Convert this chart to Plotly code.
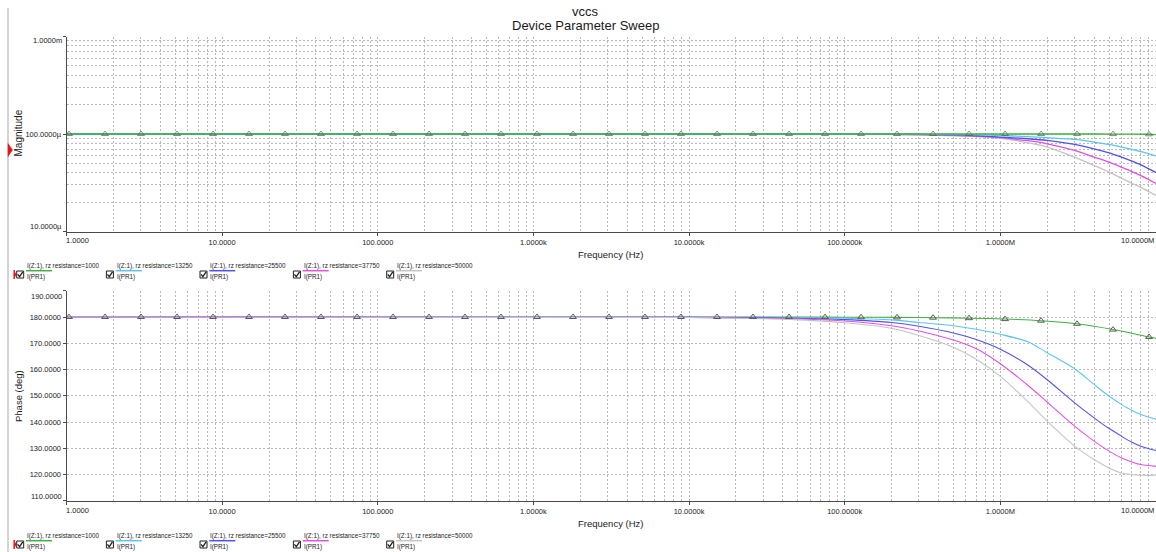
import plotly.graph_objects as go

W, H = 1156, 552
FONT = "Liberation Sans, Arial, sans-serif"
TXT = "#1a1a1a"

# ---------------- data ----------------
resistances = [1000, 13250, 25500, 37750, 50000]
colors = ["#3fb23f", "#5ac4ef", "#5050ee", "#e34fe3", "#c4c4c4"]

# trace for rz=1000 (carries the triangle markers)
freq_green = [1, 1.038, 1.768, 3.011, 5.129, 8.737, 14.88, 25.34, 43.17, 73.54,
              125.3, 213.4, 363.4, 619.0, 1054, 1796, 3059, 5211, 8875, 15118,
              25753, 43866, 74720, 127279, 216800, 369300, 629000, 1071300,
              1824900, 3108500, 5295000, 9019000, 10000000]
mag_green_u = [100, 100, 100, 100, 100, 100, 100, 100, 100, 100,
               100, 100, 100, 100, 100, 100, 100, 100, 100, 100,
               100, 100, 100, 100, 100, 100, 100, 100, 100,
               99.9, 99.8, 99.3, 98.6]
phase_green = [180, 180, 180, 180, 180, 180, 180, 180, 180, 180,
               180, 180, 180, 180, 180, 180, 180, 180, 180, 180,
               180, 180, 179.95, 179.9, 179.85, 179.75, 179.55, 179.2,
               178.6, 177.4, 175.2, 172.4, 171.9]

freq_mag = [1, 1e4, 1e5, 2e5, 3e5, 5e5, 7e5, 1e6, 1.5e6, 2e6, 3e6, 4e6, 5e6,
            6e6, 7e6, 8e6, 1e7]
mag_13250_u = [100, 100, 100, 99.8, 99.5, 98.8, 97.9, 96.5, 94.0, 91.6, 88.0,
               82.7, 78.1, 73.5, 69.4, 65.8, 59.6]
mag_25500_u = [100, 100, 100, 99.5, 99.1, 97.9, 96.0, 93.1, 89.4, 85.9, 78.1,
               70.5, 64.2, 57.9, 52.7, 48.2, 40.2]
mag_37750_u = [100, 100, 100, 99.2, 98.4, 97.0, 94.9, 91.6, 85.3, 79.4, 67.8,
               57.9, 51.4, 45.7, 41.2, 37.4, 31.1]
mag_50000_u = [100, 100, 100, 98.8, 97.7, 96.0, 93.8, 90.5, 81.3, 73.5, 57.9,
               47.5, 40.6, 35.2, 31.2, 28.4, 23.4]

freq_ph = [1, 1e4, 3e4, 5e4, 1e5, 2e5, 3e5, 5e5, 7e5, 1e6, 1.5e6, 2e6, 3e6,
           4e6, 5e6, 6e6, 7e6, 8e6, 1e7]
ph_13250 = [180, 179.95, 179.85, 179.75, 179.5, 178.9, 177.9, 176.7, 175.3,
            173.4, 170.6, 166.4, 160.3, 154.3, 149.8, 146.7, 144.4, 142.9, 141.0]
ph_25500 = [180, 179.9, 179.7, 179.5, 179.0, 177.9, 176.5, 173.9, 171.4,
            167.7, 161.7, 156.1, 147.3, 141.6, 137.5, 134.6, 132.3, 130.8, 129.1]
ph_37750 = [180, 179.85, 179.55, 179.25, 178.5, 176.7, 174.7, 171.2, 167.9,
            162.2, 154.0, 147.6, 138.4, 132.7, 128.9, 126.3, 124.8, 123.8, 123.1]
ph_50000 = [180, 179.8, 179.35, 178.9, 177.8, 175.7, 173.0, 168.5, 163.9,
            157.4, 147.8, 140.3, 130.8, 125.7, 122.5, 120.6, 120.0, 119.7, 119.7]

x_tickvals = [1, 10, 100, 1e3, 1e4, 1e5, 1e6, 1e7]
x_ticktext = ["", "10.0000", "100.0000", "1.0000k", "10.0000k", "100.0000k",
              "1.0000M", ""]
mag_tickvals = [1e-5, 1e-4, 1e-3]
mag_ticktext = ["", "100.0000\u00b5", ""]
ph_tickvals = [110, 120, 130, 140, 150, 160, 170, 180, 190]
ph_ticktext = ["", "120.0000", "130.0000", "140.0000", "150.0000", "160.0000",
               "170.0000", "180.0000", ""]

# ---------------- helpers ----------------
def px(x):
    return x / W

def py(y):
    return 1 - y / H

def ann(text, x, y, size, xanchor="center", yanchor="middle", angle=0):
    return dict(text=text, x=px(x), y=py(y), xref="paper", yref="paper",
                showarrow=False, xanchor=xanchor, yanchor=yanchor,
                textangle=angle, borderpad=0,
                font=dict(size=size, color=TXT, family=FONT))

fig = go.Figure()

u = 1e-6
LW = 1.3
LWP = 1.05
mag_sets = [(mag_50000_u, 4), (mag_37750_u, 3), (mag_25500_u, 2), (mag_13250_u, 1)]
for vals, ci in mag_sets:
    fig.add_trace(go.Scatter(x=freq_mag, y=[v * u for v in vals], mode="lines",
                             line=dict(color=colors[ci], width=LW, shape="spline", smoothing=0.8),
                             xaxis="x", yaxis="y", hoverinfo="skip"))

marker_sizes = [0] + [6] * (len(freq_green) - 2) + [0]
MK = dict(symbol="triangle-up-open", size=marker_sizes, color="#5a5a5a", line=dict(width=1))
fig.add_trace(go.Scatter(x=freq_green, y=[v * u for v in mag_green_u], mode="lines+markers",
                         line=dict(color=colors[0], width=1.4, shape="spline", smoothing=0.8),
                         marker=MK, xaxis="x", yaxis="y", hoverinfo="skip"))

fig.add_trace(go.Scatter(x=freq_green, y=phase_green, mode="lines",
                         line=dict(color=colors[0], width=LWP, shape="spline", smoothing=0.8),
                         xaxis="x2", yaxis="y2", hoverinfo="skip"))
ph_sets = [(ph_13250, 1), (ph_25500, 2), (ph_37750, 3), (ph_50000, 4)]
for vals, ci in ph_sets:
    fig.add_trace(go.Scatter(x=freq_ph, y=vals, mode="lines",
                             line=dict(color=colors[ci], width=LWP, shape="spline", smoothing=0.8),
                             xaxis="x2", yaxis="y2", hoverinfo="skip"))
# triangle markers of the rz=1000 curve drawn on top
fig.add_trace(go.Scatter(x=freq_green[1:-1], y=phase_green[1:-1], mode="markers",
                         marker=dict(symbol="triangle-up-open", size=6, color="#5a5a5a",
                                     line=dict(width=1)),
                         xaxis="x2", yaxis="y2", hoverinfo="skip"))

GRID = "#b8b8b8"
DASH = "2px,2px"
AXC = "#4a4a4a"
tickfont = dict(size=7.5, color=TXT, family=FONT)
xdom = [px(66.5), 1.0]

def xaxis_cfg(anchor):
    return dict(type="log", range=[0, 7], domain=xdom, anchor=anchor,
                tickvals=x_tickvals, ticktext=x_ticktext, tickfont=tickfont,
                ticks="outside", ticklen=3, tickcolor=AXC,
                showline=True, linecolor=AXC, linewidth=1, mirror=False,
                showgrid=True, gridcolor=GRID, griddash=DASH, gridwidth=1,
                minor=dict(dtick="D1", showgrid=True, gridcolor=GRID,
                           griddash=DASH, gridwidth=1, ticks=""),
                zeroline=False, fixedrange=True)

fig.update_layout(
    width=W, height=H,
    margin=dict(l=0, r=0, t=0, b=0),
    paper_bgcolor="white", plot_bgcolor="white",
    showlegend=False,
    xaxis=xaxis_cfg("y"),
    xaxis2=xaxis_cfg("y2"),
    yaxis=dict(type="log", range=[-5, -3], domain=[py(231.5), py(36.5)],
               anchor="x", tickvals=mag_tickvals, ticktext=mag_ticktext,
               tickfont=tickfont, ticks="outside", ticklen=3, tickcolor=AXC,
               showline=True, linecolor=AXC, linewidth=1,
               showgrid=True, gridcolor=GRID, griddash=DASH, gridwidth=1,
               minor=dict(dtick="D1", showgrid=True, gridcolor=GRID,
                          griddash=DASH, gridwidth=1, ticks=""),
               zeroline=False, fixedrange=True),
    yaxis2=dict(range=[110, 190], domain=[py(500.75), py(290.75)], anchor="x2",
                tickvals=ph_tickvals, ticktext=ph_ticktext, tickfont=tickfont,
                ticks="outside", ticklen=3, tickcolor=AXC,
                showline=True, linecolor=AXC, linewidth=1,
                showgrid=True, gridcolor=GRID, griddash=DASH, gridwidth=1,
                zeroline=False, fixedrange=True),
)

annotations = [
    ann("vccs", 585, 11.7, 13),
    ann("Device Parameter Sweep", 585, 25.7, 13),
    ann("Frequency (Hz)", 610.5, 254.3, 9.5),
    ann("Frequency (Hz)", 610.5, 523.5, 9.5),
    ann("Magnitude", 18, 133.5, 10, angle=-90),
    ann("Phase (deg)", 18, 396, 9.5, angle=-90),
    # edge tick labels (kept inside the plot as in the original)
    ann("1.0000m", 62.5, 40.5, 7.5, xanchor="right"),
    ann("10.0000\u00b5", 62.5, 226.7, 7.5, xanchor="right"),
    ann("190.0000", 62.5, 296, 7.5, xanchor="right"),
    ann("110.0000", 62.5, 496.7, 7.5, xanchor="right"),
    ann("1.0000", 65, 240.7, 7.5, xanchor="left"),
    ann("10.0000M", 1155, 240.7, 7.5, xanchor="right"),
    ann("1.0000", 65, 510.7, 7.5, xanchor="left"),
    ann("10.0000M", 1155, 510.7, 7.5, xanchor="right"),
]

shapes = [
    # window side bar
    dict(type="line", xref="paper", yref="paper", x0=px(8), x1=px(8),
         y0=py(8), y1=py(552), line=dict(color="#d4d4d4", width=2)),
    # red cursor marker
    dict(type="path", xref="paper", yref="paper",
         path=f"M {px(8)} {py(143.5)} L {px(12.5)} {py(150)} L {px(8)} {py(156.5)} Z",
         fillcolor="#e8141c", line=dict(color="#e8141c", width=0.5)),
]

legend_x = [26, 115.7, 209.3, 302.7, 396]
for dy in (0, 270):
    for i, tx in enumerate(legend_x):
        annotations.append(ann(f"I(Z:1), rz resistance={resistances[i]}", tx,
                               265.7 + dy, 6.3, xanchor="left"))
        annotations.append(ann("I(PR1)", tx, 276.7 + dy, 6.3, xanchor="left"))
        shapes.append(dict(type="line", xref="paper", yref="paper",
                           x0=px(tx), x1=px(tx + 26), y0=py(270.7 + dy), y1=py(270.7 + dy),
                           line=dict(color=colors[i], width=1.5)))
        shapes.append(dict(type="rect", xref="paper", yref="paper",
                           x0=px(tx - 9.3), x1=px(tx - 2.3), y0=py(278 + dy), y1=py(271 + dy),
                           line=dict(color="#202020", width=1), fillcolor="white"))
        shapes.append(dict(type="path", xref="paper", yref="paper",
                           path=(f"M {px(tx - 8.3)} {py(274.3 + dy)} L {px(tx - 6.4)} {py(276.6 + dy)} "
                                 f"L {px(tx - 3.2)} {py(271.9 + dy)}"),
                           line=dict(color="#202020", width=1.3)))
    shapes.append(dict(type="line", xref="paper", yref="paper",
                       x0=px(14.2), x1=px(14.2), y0=py(270 + dy), y1=py(279 + dy),
                       line=dict(color="#e8141c", width=1.5)))
    shapes.append(dict(type="path", xref="paper", yref="paper",
                       path=f"M {px(14.5)} {py(272 + dy)} L {px(17)} {py(274.5 + dy)} L {px(14.5)} {py(277 + dy)} Z",
                       fillcolor="#e8141c", line=dict(color="#e8141c", width=0.5)))

fig.update_layout(annotations=annotations, shapes=shapes)
fig.write_html("out.html", config={"displayModeBar": False})
